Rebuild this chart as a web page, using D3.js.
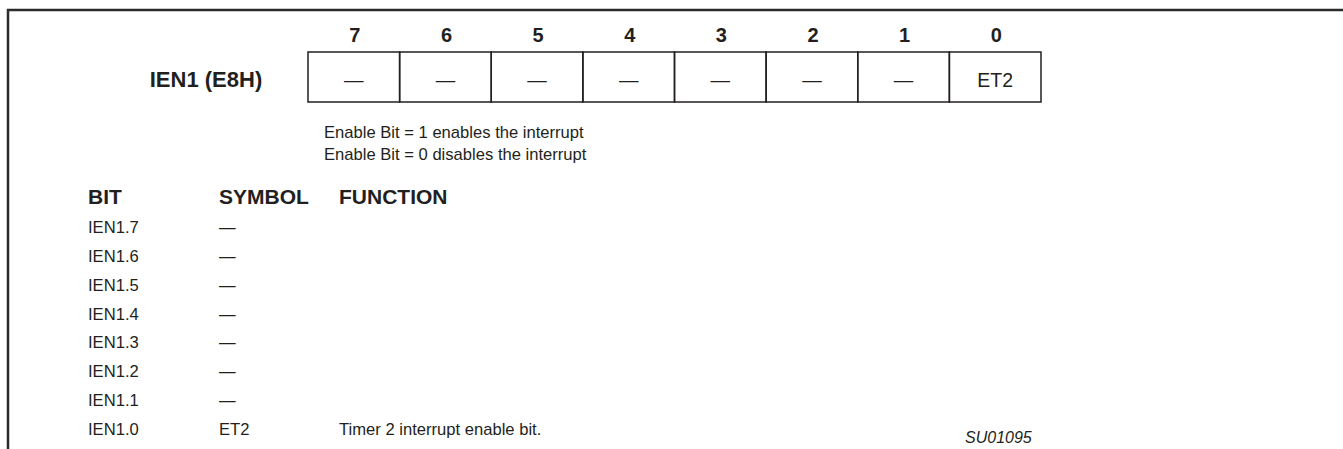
<!DOCTYPE html>
<html>
<head>
<meta charset="utf-8">
<script src="https://cdn.jsdelivr.net/npm/d3@7/dist/d3.min.js"></script>
<style>
  html, body { margin: 0; padding: 0; background: #fff; }
  svg { display: block; }
  text { font-family: "Liberation Sans", Arial, Helvetica, sans-serif; fill: #231f20; }
</style>
</head>
<body>
<svg id="chart" width="1343" height="449"></svg>
<script>
// ---- data ----
const bitNumbers = ["7", "6", "5", "4", "3", "2", "1", "0"];
const cellSymbols = ["—", "—", "—", "—", "—", "—", "—", "ET2"];
const registerName = "IEN1 (E8H)";
const notes = ["Enable Bit = 1 enables the interrupt", "Enable Bit = 0 disables the interrupt"];
const tableHeaders = ["BIT", "SYMBOL", "FUNCTION"];
const rowBits = ["IEN1.7", "IEN1.6", "IEN1.5", "IEN1.4", "IEN1.3", "IEN1.2", "IEN1.1", "IEN1.0"];
const rowSymbols = ["—", "—", "—", "—", "—", "—", "—", "ET2"];
const rowFunctions = ["", "", "", "", "", "", "", "Timer 2 interrupt enable bit."];
const figureId = "SU01095";

// ---- drawing ----
const W = 1343, H = 449;
const svg = d3.select("#chart");
const ink = "#231f20";
const bodySize = 16.6;

// outer frame (top + left)
svg.append("path")
  .attr("d", `M8,${H} L8,10 L${W},10`)
  .attr("fill", "none").attr("stroke", "#2b2b2b").attr("stroke-width", 2.5);

// register cells
const x = d3.scaleBand().domain(bitNumbers).range([308, 1041]).padding(0);
const cellTop = 52, cellBottom = 102;

svg.append("g").selectAll("rect").data(bitNumbers).join("rect")
  .attr("x", d => x(d)).attr("y", cellTop)
  .attr("width", x.bandwidth()).attr("height", cellBottom - cellTop)
  .attr("fill", "none").attr("stroke", ink).attr("stroke-width", 1.5);

svg.append("g").selectAll("text").data(bitNumbers).join("text")
  .attr("x", d => x(d) + x.bandwidth() / 2 + 1).attr("y", 42)
  .attr("text-anchor", "middle").attr("font-size", 20).attr("font-weight", "bold")
  .text(d => d);

svg.append("g").selectAll("text").data(cellSymbols).join("text")
  .attr("x", (d, i) => x(bitNumbers[i]) + x.bandwidth() / 2).attr("y", 87)
  .attr("text-anchor", "middle").attr("font-size", 19.5)
  .text(d => d);

svg.append("text")
  .attr("x", 206).attr("y", 87).attr("text-anchor", "middle")
  .attr("font-size", 22).attr("font-weight", "bold")
  .text(registerName);

// notes
const noteY = d3.scaleLinear().domain([0, 1]).range([138, 160]);
svg.append("g").selectAll("text").data(notes).join("text")
  .attr("x", 324).attr("y", (d, i) => noteY(i))
  .attr("font-size", bodySize)
  .text(d => d);

// table
const colX = [88, 219, 339];
svg.append("g").selectAll("text").data(tableHeaders).join("text")
  .attr("x", (d, i) => colX[i]).attr("y", 204)
  .attr("font-size", 21).attr("font-weight", "bold")
  .text(d => d);

const rowY = d3.scaleLinear().domain([0, rowBits.length - 1]).range([233, 435]);
const rows = svg.append("g");
rows.selectAll("text.bit").data(rowBits).join("text").attr("class", "bit")
  .attr("x", colX[0]).attr("y", (d, i) => rowY(i)).attr("font-size", bodySize).text(d => d);
rows.selectAll("text.sym").data(rowSymbols).join("text").attr("class", "sym")
  .attr("x", colX[1]).attr("y", (d, i) => rowY(i)).attr("font-size", bodySize).text(d => d);
rows.selectAll("text.fn").data(rowFunctions).join("text").attr("class", "fn")
  .attr("x", colX[2]).attr("y", (d, i) => rowY(i)).attr("font-size", bodySize).text(d => d);

svg.append("text")
  .attr("x", 965).attr("y", 443).attr("font-size", 16).attr("font-style", "italic")
  .text(figureId);
</script>
</body>
</html>
